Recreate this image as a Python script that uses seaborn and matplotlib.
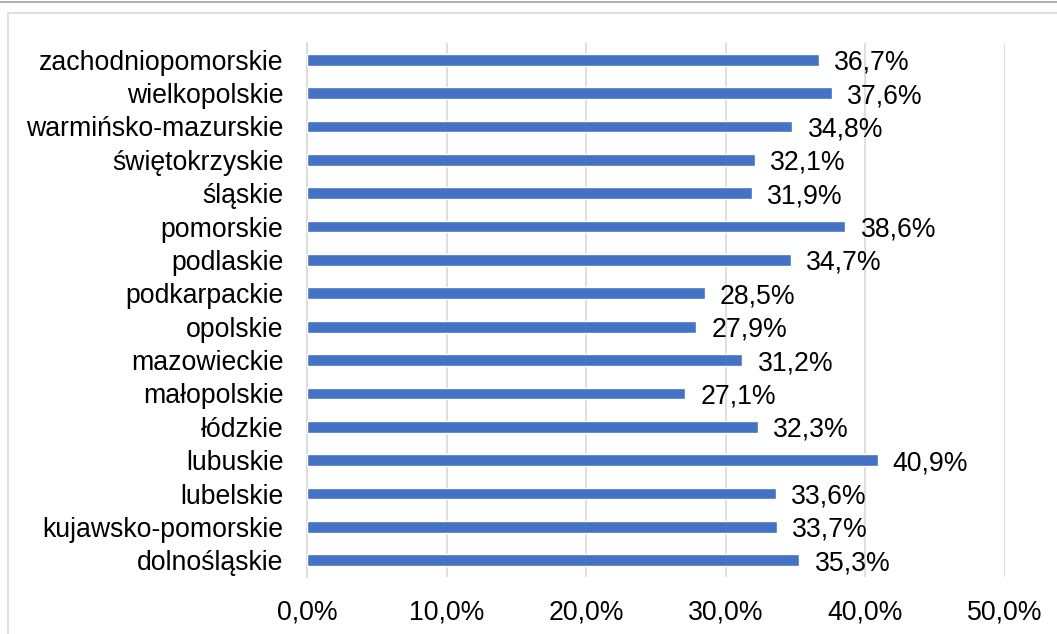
import matplotlib
matplotlib.use("Agg")
import matplotlib.pyplot as plt
import seaborn as sns
import pandas as pd
from matplotlib.patches import Rectangle
from matplotlib.lines import Line2D
from matplotlib.ticker import FuncFormatter

categories = ["zachodniopomorskie", "wielkopolskie", "warmińsko-mazurskie",
              "świętokrzyskie", "śląskie", "pomorskie", "podlaskie",
              "podkarpackie", "opolskie", "mazowieckie", "małopolskie",
              "łódzkie", "lubuskie", "lubelskie", "kujawsko-pomorskie",
              "dolnośląskie"]
values = [36.7, 37.6, 34.8, 32.1, 31.9, 38.6, 34.7, 28.5, 27.9, 31.2,
          27.1, 32.3, 40.9, 33.6, 33.7, 35.3]
xticks = [0, 10, 20, 30, 40, 50]

df = pd.DataFrame({"woj": categories, "val": values})

sns.set_theme(style="white")
plt.rcParams['font.family'] = ['Liberation Sans', 'DejaVu Sans']

FS = 19.2

fig = plt.figure(figsize=(10.57, 6.34), dpi=100)
ax = fig.add_axes([307/1057, 1 - 577/634, (1004.5-307)/1057, (577-43)/634])

# frame decorations
fig.patches.append(Rectangle((8/1057, -0.1), 1.2, 1 - 13/634 + 0.1,
                             transform=fig.transFigure, fill=False,
                             edgecolor="#d9d9d9", linewidth=1.2, zorder=0))
fig.lines.append(Line2D([0, 1], [1 - 1.5/634, 1 - 1.5/634],
                        transform=fig.transFigure, color="#a0a0a0", linewidth=1.2))

sns.barplot(data=df, x="val", y="woj", color="#4472C4", saturation=1,
            width=0.35, ax=ax, zorder=3)

ax.set_xlim(0, 50)
ax.set_xticks(xticks)
ax.xaxis.set_major_formatter(FuncFormatter(lambda v, p: f"{v:.1f}%".replace(".", ",")))
ax.grid(axis="x", color="#d9d9d9", linewidth=1.2, zorder=0)
ax.set_axisbelow(True)
for s in ["top", "right", "bottom"]:
    ax.spines[s].set_visible(False)
ax.spines["left"].set_color("#d9d9d9")
ax.spines["left"].set_linewidth(1.2)
ax.set_xlabel("")
ax.set_ylabel("")
ax.tick_params(axis="both", length=0, labelsize=FS, colors="black")
ax.tick_params(axis="x", pad=16)
ax.tick_params(axis="y", pad=17)

for cont in ax.containers:
    texts = ax.bar_label(cont, labels=[f"{v:.1f}%".replace(".", ",") for v in values],
                         padding=11, fontsize=FS, color="black")
    for t in texts:
        t.set_va("center_baseline")

fig.savefig("out.png", dpi=100)
